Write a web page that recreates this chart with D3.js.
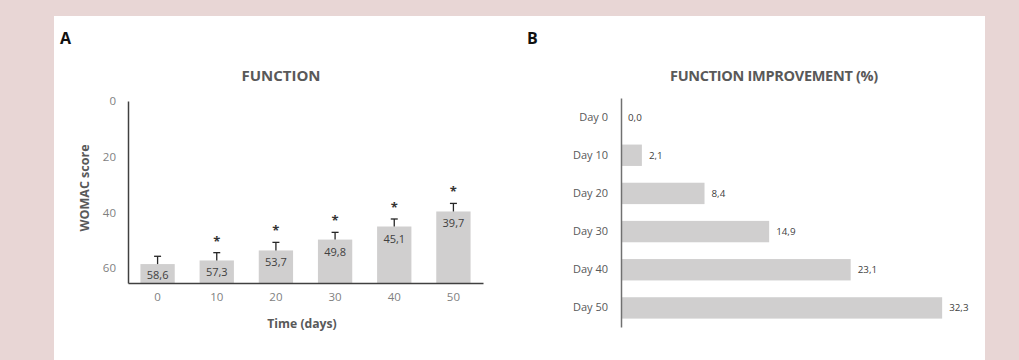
<!DOCTYPE html>
<html>
<head>
<meta charset="utf-8">
<script src="https://cdn.jsdelivr.net/npm/d3@7"></script>
<style>
  body { margin: 0; background: #e8d6d5; }
  svg { display: block; font-family: "Open Sans", sans-serif; }
</style>
</head>
<body>
<svg id="chart" width="1019" height="360"></svg>
<script>
// panel A: WOMAC function score over time
const days = ["0", "10", "20", "30", "40", "50"];
const womac = [58.6, 57.3, 53.7, 49.8, 45.1, 39.7];
const womacErr = [2.8, 2.8, 2.9, 2.6, 2.7, 2.9];
const significant = [false, true, true, true, true, true];
const yTicks = [0, 20, 40, 60];

// panel B: improvement (%)
const dayLabels = ["Day 0", "Day 10", "Day 20", "Day 30", "Day 40", "Day 50"];
const improvement = [0.0, 2.1, 8.4, 14.9, 23.1, 32.3];

const fmt = v => v.toFixed(1).replace(".", ",");
const barColor = "#d0cfcf";

const svg = d3.select("#chart");

svg.append("rect")
  .attr("x", 54).attr("y", 16)
  .attr("width", 931).attr("height", 344)
  .attr("fill", "#fff");

// ---------- panel A ----------
const gA = svg.append("g");

gA.append("text")
  .attr("x", 60).attr("y", 44)
  .attr("font-size", 16).attr("font-weight", "bold")
  .attr("fill", "#111")
  .text("A");

gA.append("text")
  .attr("x", 281).attr("y", 81)
  .attr("text-anchor", "middle")
  .attr("font-size", 15).attr("font-weight", "bold")
  .attr("fill", "#595959")
  .text("FUNCTION");

const x = d3.scaleBand()
  .domain(days)
  .range([128, 483])
  .paddingInner(0.42)
  .paddingOuter(0.21);

const y = d3.scaleLinear()
  .domain([0, 65.4])
  .range([101, 283]);

const baseY = y(65.4);

gA.selectAll(".bar")
  .data(womac)
  .join("rect")
    .attr("class", "bar")
    .attr("x", (d, i) => x(days[i]))
    .attr("y", d => y(d))
    .attr("width", x.bandwidth())
    .attr("height", d => baseY - y(d))
    .attr("fill", barColor);

// error bars (upwards only)
const err = gA.append("g")
  .attr("stroke", "#262626")
  .attr("stroke-width", 1.3);

womac.forEach((v, i) => {
  const cx = x(days[i]) + x.bandwidth() / 2;
  err.append("line")
    .attr("x1", cx).attr("x2", cx)
    .attr("y1", y(v)).attr("y2", y(v - womacErr[i]));
  err.append("line")
    .attr("x1", cx - 3.5).attr("x2", cx + 3.5)
    .attr("y1", y(v - womacErr[i])).attr("y2", y(v - womacErr[i]));
});

gA.selectAll(".star")
  .data(womac)
  .join("text")
    .attr("class", "star")
    .attr("x", (d, i) => x(days[i]) + x.bandwidth() / 2)
    .attr("y", (d, i) => y(d - womacErr[i]) - 7)
    .attr("text-anchor", "middle")
    .attr("font-size", 13).attr("font-weight", "bold")
    .attr("fill", "#333")
    .text((d, i) => significant[i] ? "*" : "");

gA.selectAll(".val")
  .data(womac)
  .join("text")
    .attr("class", "val")
    .attr("x", (d, i) => x(days[i]) + x.bandwidth() / 2)
    .attr("y", d => Math.min(y(d) + 12, (y(d) + baseY) / 2 + 1) + 4)
    .attr("text-anchor", "middle")
    .attr("font-size", 11)
    .attr("fill", "#404040")
    .text(d => fmt(d));

const yAxis = gA.append("g")
  .attr("transform", "translate(128,0)")
  .call(d3.axisLeft(y).tickValues(yTicks).tickSize(0).tickPadding(12));
yAxis.select(".domain").attr("stroke", "#404040").attr("stroke-width", 1.5);
yAxis.selectAll("text").attr("font-size", 11.5).attr("fill", "#7f7f7f")
  .attr("font-family", "Open Sans, sans-serif");

const xAxis = gA.append("g")
  .attr("transform", `translate(0,${baseY})`)
  .call(d3.axisBottom(x).tickSize(0).tickPadding(10));
xAxis.select(".domain").attr("stroke", "#404040").attr("stroke-width", 1.5);
xAxis.selectAll("text").attr("font-size", 11.5).attr("fill", "#7f7f7f")
  .attr("font-family", "Open Sans, sans-serif");

gA.append("text")
  .attr("x", 302).attr("y", 327.5)
  .attr("text-anchor", "middle")
  .attr("font-size", 12.2).attr("font-weight", "bold")
  .attr("fill", "#595959")
  .text("Time (days)");

gA.append("text")
  .attr("transform", "translate(89,188) rotate(-90)")
  .attr("text-anchor", "middle")
  .attr("font-size", 12.5).attr("font-weight", "bold")
  .attr("fill", "#595959")
  .text("WOMAC score");

// ---------- panel B ----------
const gB = svg.append("g");

gB.append("text")
  .attr("x", 527).attr("y", 44)
  .attr("font-size", 16).attr("font-weight", "bold")
  .attr("fill", "#111")
  .text("B");

gB.append("text")
  .attr("x", 774).attr("y", 80.5)
  .attr("text-anchor", "middle")
  .attr("font-size", 14.5).attr("font-weight", "bold")
  .attr("fill", "#595959")
  .attr("letter-spacing", -0.3)
  .text("FUNCTION IMPROVEMENT (%)");

const yb = d3.scaleBand()
  .domain(dayLabels)
  .range([98, 327])
  .paddingInner(0.44)
  .paddingOuter(0.22);

const xb = d3.scaleLinear()
  .domain([0, 35])
  .range([621, 969]);

gB.selectAll(".hbar")
  .data(improvement)
  .join("rect")
    .attr("class", "hbar")
    .attr("x", xb(0))
    .attr("y", (d, i) => yb(dayLabels[i]))
    .attr("width", d => xb(d) - xb(0))
    .attr("height", yb.bandwidth())
    .attr("fill", barColor);

gB.selectAll(".hval")
  .data(improvement)
  .join("text")
    .attr("class", "hval")
    .attr("x", d => xb(d) + 7)
    .attr("y", (d, i) => yb(dayLabels[i]) + yb.bandwidth() / 2 + 3.5)
    .attr("font-size", 9.8)
    .attr("fill", "#404040")
    .text(d => fmt(d));

const ybAxis = gB.append("g")
  .attr("transform", "translate(621,0)")
  .call(d3.axisLeft(yb).tickSize(0).tickPadding(13));
ybAxis.select(".domain").attr("stroke", "#707070").attr("stroke-width", 1.5);
ybAxis.selectAll("text").attr("font-size", 11).attr("fill", "#595959")
  .attr("font-family", "Open Sans, sans-serif");
</script>
</body>
</html>
